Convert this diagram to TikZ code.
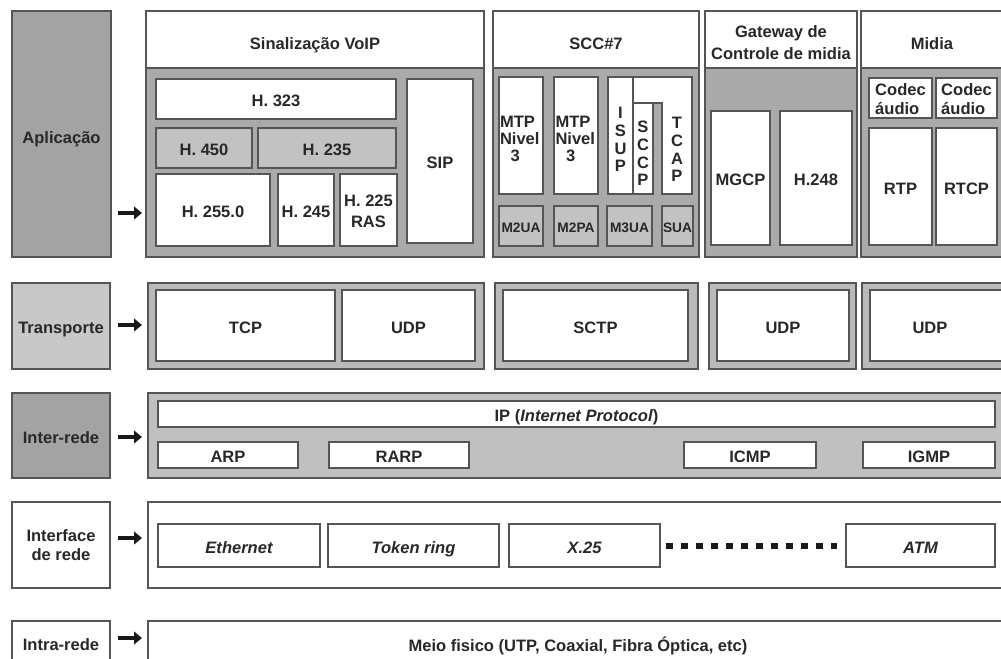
\documentclass[tikz,border=0pt]{standalone}
\usepackage{fontspec}
\setmainfont{Liberation Sans}
\usetikzlibrary{arrows.meta}
\definecolor{edgec}{RGB}{85,85,85}
\definecolor{txtc}{RGB}{40,40,40}
\definecolor{dkc}{RGB}{163,163,163}
\definecolor{bodyc}{RGB}{170,170,170}
\definecolor{ltc}{RGB}{194,194,194}
\definecolor{trc}{RGB}{200,200,200}
\definecolor{frc}{RGB}{186,186,186}
\definecolor{ipc}{RGB}{192,192,192}
\definecolor{arrc}{RGB}{25,25,25}
\newcommand{\bfnt}{\fontsize{12.4}{13.3}\selectfont\bfseries}
\newcommand{\bx}[7]{\node[#6, minimum width={(#4-#2)*0.75pt}, minimum height={(#5-#3)*0.75pt}] (#1) at ({(#2+#4)/2},{(#3+#5)/2}) {#7};}
\begin{document}
\begin{tikzpicture}[x=0.75pt,y=-0.75pt,
  box/.style={draw=edgec, line width=0.9pt, inner sep=0pt, outer sep=0pt, text=txtc, font=\bfnt},
  cc/.style={text height=11.9pt, text depth=0pt},
  wb/.style={box, fill=white, cc},
  gb/.style={box, fill=ltc, cc},
  sm/.style={box, fill=ltc, font=\fontsize{10.3}{12}\selectfont\bfseries, text height=10.4pt, text depth=0pt},
  wi/.style={box, fill=white, cc, font=\bfnt\itshape},
  lbl/.style={inner sep=0pt, outer sep=0pt, text=txtc, font=\bfnt, text height=8.9pt, text depth=0pt},
  stack/.style={inner sep=0pt, outer sep=0pt, text=txtc, align=center, font={\fontsize{12.4}{13.3}\selectfont\bfseries}},
  stackl/.style={inner sep=0pt, outer sep=0pt, text=txtc, align=left, font={\fontsize{12.4}{12.8}\selectfont\bfseries}},
  arr/.style={-{Triangle[length=6pt,width=9.5pt]}, line width=3.4pt, draw=arrc, fill=arrc},
  dots/.style={draw=arrc, line width=5pt, dash pattern=on 5pt off 6.25pt}
]
\useasboundingbox (0,0) rectangle (1001,658);

% ---------------- Aplicacao ----------------
\bx{apl}{12}{11}{111}{257}{box,fill=dkc}{}
\node[lbl] (aplt) at (61.5,138) {Aplicação};

% Sinalizacao VoIP
\bx{vb}{146}{68}{484}{257}{box,fill=bodyc}{}
\bx{vh}{146}{11}{484}{68}{box,fill=white}{}
\node[lbl] (vht) at (315,44) {Sinalização VoIP};
\bx{h323}{156}{79}{396}{119}{wb}{H. 323}
\bx{h450}{156}{128}{252}{168}{gb}{H. 450}
\bx{h235}{258}{128}{396}{168}{gb}{H. 235}
\bx{h2550}{156}{174}{270}{246}{wb}{H. 255.0}
\bx{h245}{278}{174}{334}{246}{wb}{H. 245}
\bx{h225}{340}{174}{397}{246}{box,fill=white}{}
\node[stack, font={\fontsize{12.4}{16}\selectfont\bfseries}] (h225t) at (368.5,211.5) {H. 225\\RAS};
\bx{sip}{407}{79}{473}{243}{wb}{SIP}

% SCC#7
\bx{sb}{493}{68}{699}{257}{box,fill=bodyc}{}
\bx{sh}{493}{11}{699}{68}{box,fill=white}{}
\node[lbl] (sht) at (596,44) {SCC\#7};
\bx{mtpa}{499}{77}{543}{194}{box,fill=white}{}
\node[stackl, anchor=west] (mtpat) at (500,139) {MTP\\Nivel\\\hspace*{8pt}3};
\bx{mtpb}{554}{77}{598}{194}{box,fill=white}{}
\node[stackl, anchor=west] (mtpbt) at (555.5,139) {MTP\\Nivel\\\hspace*{8pt}3};
\bx{isup}{608}{77}{633}{194}{box,fill=white}{}
\node[stack] (isupt) at (620.5,139.5) {I\\S\\U\\P};
\bx{sccp}{633}{103}{653}{194}{box,fill=white}{}
\node[stack] (sccpt) at (643,153.5) {S\\C\\C\\P};
\draw[draw=edgec, line width=0.9pt, fill=white] (633,77) -- (692,77) -- (692,194) -- (662,194) -- (662,103) -- (633,103) -- cycle;
\node[stack] (tcapt) at (677,149.5) {T\\C\\A\\P};
\bx{m2ua}{499}{206}{543}{246}{sm}{M2UA}
\bx{m2pa}{554}{206}{598}{246}{sm}{M2PA}
\bx{m3ua}{607}{206}{652}{246}{sm}{M3UA}
\bx{sua}{662}{206}{693}{246}{sm}{SUA}

% Gateway de Controle de midia
\bx{gb}{705}{68}{857}{257}{box,fill=bodyc}{}
\bx{gh}{705}{11}{857}{68}{box,fill=white}{}
\node[stack, font={\fontsize{12.4}{16.3}\selectfont\bfseries}] (ght) at (781,42.5) {Gateway de\\Controle de midia};
\bx{mgcp}{711}{111}{770}{245}{wb}{MGCP}
\bx{h248}{780}{111}{852}{245}{wb}{H.248}

% Midia
\bx{mb}{861}{68}{1012}{257}{box,fill=bodyc}{}
\bx{mh}{861}{11}{1012}{68}{box,fill=white}{}
\node[lbl] (mht) at (932,44) {Midia};
\bx{coda}{869}{78}{932}{118}{box,fill=white}{}
\node[stackl, font={\fontsize{12.4}{13.7}\selectfont\bfseries}] (codat) at (900.5,99) {Codec\\áudio};
\bx{codb}{936}{78}{997}{118}{box,fill=white}{}
\node[stackl, font={\fontsize{12.4}{13.7}\selectfont\bfseries}] (codbt) at (966.5,99) {Codec\\áudio};
\bx{rtp}{869}{128}{932}{245}{wb}{RTP}
\bx{rtcp}{936}{128}{997}{245}{wb}{RTCP}

% ---------------- Transporte ----------------
\bx{tra}{12}{283}{110}{369}{box,fill=trc,cc}{Transporte}
\bx{tf1}{148}{283}{484}{369}{box,fill=frc}{}
\bx{tcp}{156}{290}{335}{361}{wb}{TCP}
\bx{udp1}{342}{290}{475}{361}{wb}{UDP}
\bx{tf2}{495}{283}{698}{369}{box,fill=frc}{}
\bx{sctp}{503}{290}{688}{361}{wb}{SCTP}
\bx{tf3}{709}{283}{856}{369}{box,fill=frc}{}
\bx{udp2}{717}{290}{849}{361}{wb}{UDP}
\bx{tf4}{862}{283}{1012}{369}{box,fill=frc}{}
\bx{udp3}{870}{290}{1008}{361}{box,fill=white}{}
\node[lbl] (udp3t) at (930,327.5) {UDP};

% ---------------- Inter-rede ----------------
\bx{inr}{12}{393}{110}{478}{box,fill=dkc,cc}{Inter-rede}
\bx{ipf}{148}{393}{1012}{478}{box,fill=ipc}{}
\bx{ip}{158}{401}{995}{427}{wb}{IP (\textit{Internet Protocol})}
\bx{arp}{158}{442}{298}{468}{wb}{ARP}
\bx{rarp}{329}{442}{469}{468}{wb}{RARP}
\bx{icmp}{684}{442}{816}{468}{wb}{ICMP}
\bx{igmp}{863}{442}{995}{468}{wb}{IGMP}

% ---------------- Interface de rede ----------------
\bx{ifr}{12}{502}{110}{588}{box,fill=white,align=center,font={\fontsize{12.4}{13.75}\selectfont\bfseries}}{Interface\\de rede}
\bx{iff}{148}{502}{1012}{588}{box,fill=white}{}
\bx{eth}{158}{524}{320}{567}{wi}{Ethernet}
\bx{tok}{328}{524}{499}{567}{wi}{Token ring}
\bx{x25}{509}{524}{660}{567}{wi}{X.25}
\bx{atm}{846}{524}{995}{567}{wi}{ATM}
\draw[dots, shorten <=4.5pt, shorten >=6.75pt] (x25.east |- 0,546) -- (atm.west |- 0,546);

% ---------------- Intra-rede ----------------
\bx{itr}{12}{621}{110}{690}{box,fill=white}{}
\node[lbl] (itrt) at (61,645) {Intra-rede};
\bx{mf}{148}{621}{1012}{690}{box,fill=white}{}
\node[lbl] (mft) at (578,646) {Meio fisico (UTP, Coaxial, Fibra Óptica, etc)};

% ---------------- arrows ----------------
\coordinate (a1s) at (118,213); \coordinate (a1e) at (142,213);
\coordinate (a2s) at (118,325); \coordinate (a2e) at (142,325);
\coordinate (a3s) at (118,437); \coordinate (a3e) at (142,437);
\coordinate (a4s) at (118,538); \coordinate (a4e) at (142,538);
\coordinate (a5s) at (118,638); \coordinate (a5e) at (142,638);
\draw[arr] (a1s) -- (a1e);
\draw[arr] (a2s) -- (a2e);
\draw[arr] (a3s) -- (a3e);
\draw[arr] (a4s) -- (a4e);
\draw[arr] (a5s) -- (a5e);
\end{tikzpicture}
\end{document}
